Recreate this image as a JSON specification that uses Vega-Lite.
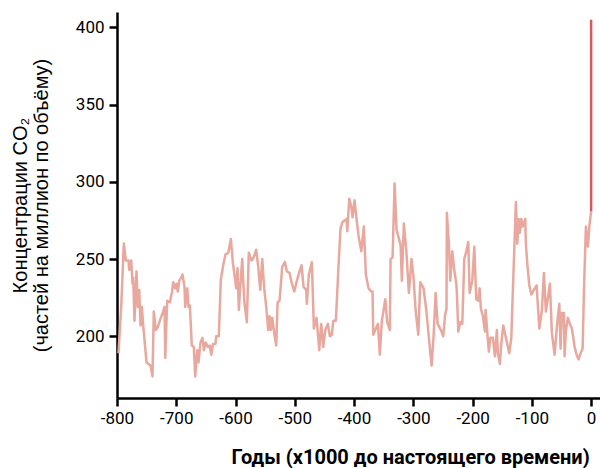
{
  "$schema": "https://vega.github.io/schema/vega-lite/v6.json",
  "width": 483,
  "height": 386,
  "autosize": "none",
  "padding": {"left": 117, "top": 12, "right": 0, "bottom": 70},
  "background": "white",
  "config": {
    "view": {"stroke": null},
    "font": "Roboto",
    "axis": {
      "grid": false,
      "domainColor": "black",
      "domainWidth": 2.5,
      "tickColor": "black",
      "tickWidth": 2.5,
      "tickSize": 8,
      "labelColor": "black",
      "labelFont": "Roboto",
      "labelFontSize": 17,
      "labelFlush": false,
      "labelOverlap": false,
      "labelExpr": "'' + datum.value",
      "titleColor": "black"
    }
  },
  "data": {
    "values": [
      {"t": -797.5, "co2": 189, "s": "ice"},
      {"t": -792.9, "co2": 219, "s": "ice"},
      {"t": -788.5, "co2": 260, "s": "ice"},
      {"t": -785.1, "co2": 249, "s": "ice"},
      {"t": -780.6, "co2": 249, "s": "ice"},
      {"t": -779.4, "co2": 243, "s": "ice"},
      {"t": -776.0, "co2": 249, "s": "ice"},
      {"t": -773.8, "co2": 234, "s": "ice"},
      {"t": -772.7, "co2": 238, "s": "ice"},
      {"t": -770.5, "co2": 210, "s": "ice"},
      {"t": -767.1, "co2": 242, "s": "ice"},
      {"t": -764.9, "co2": 219, "s": "ice"},
      {"t": -762.5, "co2": 230, "s": "ice"},
      {"t": -760.3, "co2": 207, "s": "ice"},
      {"t": -758.1, "co2": 219, "s": "ice"},
      {"t": -755.8, "co2": 207, "s": "ice"},
      {"t": -750.2, "co2": 183, "s": "ice"},
      {"t": -746.8, "co2": 182, "s": "ice"},
      {"t": -743.5, "co2": 181, "s": "ice"},
      {"t": -740.1, "co2": 174, "s": "ice"},
      {"t": -737.9, "co2": 216, "s": "ice"},
      {"t": -734.5, "co2": 204, "s": "ice"},
      {"t": -731.1, "co2": 206, "s": "ice"},
      {"t": -727.8, "co2": 210, "s": "ice"},
      {"t": -723.2, "co2": 215, "s": "ice"},
      {"t": -719.8, "co2": 219, "s": "ice"},
      {"t": -718.6, "co2": 186, "s": "ice"},
      {"t": -715.3, "co2": 223, "s": "ice"},
      {"t": -710.9, "co2": 222, "s": "ice"},
      {"t": -707.5, "co2": 228, "s": "ice"},
      {"t": -705.1, "co2": 235, "s": "ice"},
      {"t": -701.8, "co2": 231, "s": "ice"},
      {"t": -699.6, "co2": 234, "s": "ice"},
      {"t": -697.4, "co2": 229, "s": "ice"},
      {"t": -695.0, "co2": 236, "s": "ice"},
      {"t": -691.6, "co2": 238, "s": "ice"},
      {"t": -689.5, "co2": 240, "s": "ice"},
      {"t": -686.1, "co2": 232, "s": "ice"},
      {"t": -684.9, "co2": 219, "s": "ice"},
      {"t": -681.5, "co2": 231, "s": "ice"},
      {"t": -679.3, "co2": 219, "s": "ice"},
      {"t": -677.1, "co2": 220, "s": "ice"},
      {"t": -673.8, "co2": 194, "s": "ice"},
      {"t": -670.4, "co2": 193, "s": "ice"},
      {"t": -668.0, "co2": 174, "s": "ice"},
      {"t": -664.6, "co2": 191, "s": "ice"},
      {"t": -662.4, "co2": 183, "s": "ice"},
      {"t": -659.1, "co2": 196, "s": "ice"},
      {"t": -655.7, "co2": 199, "s": "ice"},
      {"t": -653.5, "co2": 191, "s": "ice"},
      {"t": -650.1, "co2": 196, "s": "ice"},
      {"t": -646.8, "co2": 193, "s": "ice"},
      {"t": -643.4, "co2": 194, "s": "ice"},
      {"t": -641.0, "co2": 188, "s": "ice"},
      {"t": -638.0, "co2": 195, "s": "ice"},
      {"t": -633.8, "co2": 195, "s": "ice"},
      {"t": -632.6, "co2": 200, "s": "ice"},
      {"t": -628.2, "co2": 200, "s": "ice"},
      {"t": -624.8, "co2": 237, "s": "ice"},
      {"t": -620.3, "co2": 247, "s": "ice"},
      {"t": -616.9, "co2": 253, "s": "ice"},
      {"t": -612.3, "co2": 254, "s": "ice"},
      {"t": -607.9, "co2": 263, "s": "ice"},
      {"t": -604.6, "co2": 248, "s": "ice"},
      {"t": -598.8, "co2": 231, "s": "ice"},
      {"t": -596.6, "co2": 244, "s": "ice"},
      {"t": -594.4, "co2": 217, "s": "ice"},
      {"t": -592.1, "co2": 232, "s": "ice"},
      {"t": -588.7, "co2": 250, "s": "ice"},
      {"t": -585.3, "co2": 223, "s": "ice"},
      {"t": -580.9, "co2": 209, "s": "ice"},
      {"t": -577.6, "co2": 254, "s": "ice"},
      {"t": -573.0, "co2": 249, "s": "ice"},
      {"t": -569.6, "co2": 251, "s": "ice"},
      {"t": -565.1, "co2": 256, "s": "ice"},
      {"t": -561.7, "co2": 245, "s": "ice"},
      {"t": -558.3, "co2": 230, "s": "ice"},
      {"t": -554.9, "co2": 250, "s": "ice"},
      {"t": -551.6, "co2": 231, "s": "ice"},
      {"t": -548.2, "co2": 219, "s": "ice"},
      {"t": -544.8, "co2": 204, "s": "ice"},
      {"t": -542.6, "co2": 213, "s": "ice"},
      {"t": -540.4, "co2": 204, "s": "ice"},
      {"t": -538.1, "co2": 212, "s": "ice"},
      {"t": -534.7, "co2": 202, "s": "ice"},
      {"t": -531.3, "co2": 194, "s": "ice"},
      {"t": -529.1, "co2": 222, "s": "ice"},
      {"t": -525.7, "co2": 223, "s": "ice"},
      {"t": -521.2, "co2": 245, "s": "ice"},
      {"t": -516.8, "co2": 248, "s": "ice"},
      {"t": -513.4, "co2": 242, "s": "ice"},
      {"t": -508.9, "co2": 241, "s": "ice"},
      {"t": -505.5, "co2": 235, "s": "ice"},
      {"t": -500.9, "co2": 229, "s": "ice"},
      {"t": -496.5, "co2": 236, "s": "ice"},
      {"t": -492.0, "co2": 242, "s": "ice"},
      {"t": -488.6, "co2": 246, "s": "ice"},
      {"t": -485.2, "co2": 232, "s": "ice"},
      {"t": -480.7, "co2": 230, "s": "ice"},
      {"t": -479.7, "co2": 221, "s": "ice"},
      {"t": -476.3, "co2": 240, "s": "ice"},
      {"t": -471.2, "co2": 248, "s": "ice"},
      {"t": -467.8, "co2": 205, "s": "ice"},
      {"t": -463.3, "co2": 212, "s": "ice"},
      {"t": -458.7, "co2": 191, "s": "ice"},
      {"t": -455.4, "co2": 208, "s": "ice"},
      {"t": -452.0, "co2": 193, "s": "ice"},
      {"t": -448.6, "co2": 204, "s": "ice"},
      {"t": -444.2, "co2": 208, "s": "ice"},
      {"t": -440.8, "co2": 200, "s": "ice"},
      {"t": -437.5, "co2": 201, "s": "ice"},
      {"t": -435.1, "co2": 210, "s": "ice"},
      {"t": -430.7, "co2": 210, "s": "ice"},
      {"t": -426.2, "co2": 246, "s": "ice"},
      {"t": -422.8, "co2": 270, "s": "ice"},
      {"t": -419.4, "co2": 274, "s": "ice"},
      {"t": -416.0, "co2": 275, "s": "ice"},
      {"t": -412.7, "co2": 276, "s": "ice"},
      {"t": -411.5, "co2": 268, "s": "ice"},
      {"t": -408.1, "co2": 289, "s": "ice"},
      {"t": -404.7, "co2": 284, "s": "ice"},
      {"t": -402.5, "co2": 277, "s": "ice"},
      {"t": -399.2, "co2": 288, "s": "ice"},
      {"t": -395.8, "co2": 276, "s": "ice"},
      {"t": -392.4, "co2": 265, "s": "ice"},
      {"t": -387.8, "co2": 255, "s": "ice"},
      {"t": -383.5, "co2": 271, "s": "ice"},
      {"t": -380.1, "co2": 240, "s": "ice"},
      {"t": -375.5, "co2": 231, "s": "ice"},
      {"t": -371.0, "co2": 229, "s": "ice"},
      {"t": -368.8, "co2": 229, "s": "ice"},
      {"t": -367.6, "co2": 201, "s": "ice"},
      {"t": -363.2, "co2": 205, "s": "ice"},
      {"t": -359.8, "co2": 208, "s": "ice"},
      {"t": -356.5, "co2": 188, "s": "ice"},
      {"t": -353.1, "co2": 210, "s": "ice"},
      {"t": -349.7, "co2": 218, "s": "ice"},
      {"t": -347.3, "co2": 224, "s": "ice"},
      {"t": -344.0, "co2": 209, "s": "ice"},
      {"t": -339.6, "co2": 204, "s": "ice"},
      {"t": -338.4, "co2": 250, "s": "ice"},
      {"t": -335.0, "co2": 251, "s": "ice"},
      {"t": -331.6, "co2": 299, "s": "ice"},
      {"t": -328.3, "co2": 269, "s": "ice"},
      {"t": -324.9, "co2": 264, "s": "ice"},
      {"t": -321.5, "co2": 259, "s": "ice"},
      {"t": -319.3, "co2": 236, "s": "ice"},
      {"t": -316.0, "co2": 273, "s": "ice"},
      {"t": -311.9, "co2": 256, "s": "ice"},
      {"t": -307.5, "co2": 228, "s": "ice"},
      {"t": -303.0, "co2": 250, "s": "ice"},
      {"t": -299.6, "co2": 238, "s": "ice"},
      {"t": -296.2, "co2": 217, "s": "ice"},
      {"t": -291.6, "co2": 201, "s": "ice"},
      {"t": -288.3, "co2": 235, "s": "ice"},
      {"t": -282.7, "co2": 231, "s": "ice"},
      {"t": -278.1, "co2": 217, "s": "ice"},
      {"t": -273.7, "co2": 199, "s": "ice"},
      {"t": -269.2, "co2": 181, "s": "ice"},
      {"t": -265.8, "co2": 200, "s": "ice"},
      {"t": -262.4, "co2": 228, "s": "ice"},
      {"t": -259.0, "co2": 208, "s": "ice"},
      {"t": -253.5, "co2": 204, "s": "ice"},
      {"t": -249.5, "co2": 200, "s": "ice"},
      {"t": -246.3, "co2": 214, "s": "ice"},
      {"t": -244.0, "co2": 218, "s": "ice"},
      {"t": -243.4, "co2": 280, "s": "ice"},
      {"t": -240.0, "co2": 260, "s": "ice"},
      {"t": -237.6, "co2": 236, "s": "ice"},
      {"t": -234.3, "co2": 255, "s": "ice"},
      {"t": -230.9, "co2": 243, "s": "ice"},
      {"t": -227.5, "co2": 234, "s": "ice"},
      {"t": -226.5, "co2": 228, "s": "ice"},
      {"t": -224.1, "co2": 203, "s": "ice"},
      {"t": -220.8, "co2": 209, "s": "ice"},
      {"t": -217.4, "co2": 208, "s": "ice"},
      {"t": -214.0, "co2": 250, "s": "ice"},
      {"t": -210.6, "co2": 255, "s": "ice"},
      {"t": -207.3, "co2": 261, "s": "ice"},
      {"t": -205.0, "co2": 228, "s": "ice"},
      {"t": -200.5, "co2": 236, "s": "ice"},
      {"t": -197.1, "co2": 258, "s": "ice"},
      {"t": -193.8, "co2": 224, "s": "ice"},
      {"t": -190.4, "co2": 223, "s": "ice"},
      {"t": -188.2, "co2": 231, "s": "ice"},
      {"t": -186.0, "co2": 218, "s": "ice"},
      {"t": -182.6, "co2": 213, "s": "ice"},
      {"t": -179.2, "co2": 203, "s": "ice"},
      {"t": -178.0, "co2": 217, "s": "ice"},
      {"t": -174.7, "co2": 200, "s": "ice"},
      {"t": -172.5, "co2": 190, "s": "ice"},
      {"t": -170.1, "co2": 199, "s": "ice"},
      {"t": -165.7, "co2": 199, "s": "ice"},
      {"t": -162.4, "co2": 187, "s": "ice"},
      {"t": -159.0, "co2": 204, "s": "ice"},
      {"t": -157.3, "co2": 189, "s": "ice"},
      {"t": -153.9, "co2": 182, "s": "ice"},
      {"t": -151.6, "co2": 195, "s": "ice"},
      {"t": -148.2, "co2": 207, "s": "ice"},
      {"t": -143.8, "co2": 199, "s": "ice"},
      {"t": -138.1, "co2": 189, "s": "ice"},
      {"t": -134.7, "co2": 199, "s": "ice"},
      {"t": -131.3, "co2": 238, "s": "ice"},
      {"t": -126.9, "co2": 287, "s": "ice"},
      {"t": -124.6, "co2": 260, "s": "ice"},
      {"t": -122.4, "co2": 276, "s": "ice"},
      {"t": -120.2, "co2": 267, "s": "ice"},
      {"t": -117.8, "co2": 276, "s": "ice"},
      {"t": -115.6, "co2": 271, "s": "ice"},
      {"t": -111.1, "co2": 276, "s": "ice"},
      {"t": -110.1, "co2": 260, "s": "ice"},
      {"t": -107.7, "co2": 247, "s": "ice"},
      {"t": -104.3, "co2": 233, "s": "ice"},
      {"t": -100.9, "co2": 227, "s": "ice"},
      {"t": -96.5, "co2": 230, "s": "ice"},
      {"t": -92.0, "co2": 233, "s": "ice"},
      {"t": -87.4, "co2": 205, "s": "ice"},
      {"t": -83.0, "co2": 217, "s": "ice"},
      {"t": -79.7, "co2": 241, "s": "ice"},
      {"t": -76.3, "co2": 216, "s": "ice"},
      {"t": -72.9, "co2": 225, "s": "ice"},
      {"t": -69.5, "co2": 234, "s": "ice"},
      {"t": -66.2, "co2": 202, "s": "ice"},
      {"t": -61.6, "co2": 188, "s": "ice"},
      {"t": -57.1, "co2": 209, "s": "ice"},
      {"t": -53.7, "co2": 221, "s": "ice"},
      {"t": -51.5, "co2": 192, "s": "ice"},
      {"t": -49.3, "co2": 215, "s": "ice"},
      {"t": -45.9, "co2": 215, "s": "ice"},
      {"t": -44.7, "co2": 187, "s": "ice"},
      {"t": -42.5, "co2": 204, "s": "ice"},
      {"t": -39.2, "co2": 212, "s": "ice"},
      {"t": -35.8, "co2": 208, "s": "ice"},
      {"t": -32.4, "co2": 205, "s": "ice"},
      {"t": -27.8, "co2": 193, "s": "ice"},
      {"t": -24.5, "co2": 188, "s": "ice"},
      {"t": -21.1, "co2": 185, "s": "ice"},
      {"t": -17.7, "co2": 189, "s": "ice"},
      {"t": -14.3, "co2": 192, "s": "ice"},
      {"t": -12.2, "co2": 228, "s": "ice"},
      {"t": -8.8, "co2": 271, "s": "ice"},
      {"t": -5.4, "co2": 258, "s": "ice"},
      {"t": -3.0, "co2": 271, "s": "ice"},
      {"t": 0.0, "co2": 281, "s": "ice"},
      {"t": 0.0, "co2": 281, "s": "modern"},
      {"t": 0.0, "co2": 405, "s": "modern"}
    ]
  },
  "mark": {"type": "line", "strokeWidth": 2.5, "strokeJoin": "round", "clip": true},
  "encoding": {
    "x": {
      "field": "t",
      "type": "quantitative",
      "scale": {"domain": [-800, 15], "nice": false, "zero": false},
      "axis": {
        "values": [-800, -700, -600, -500, -400, -300, -200, -100, 0],
        "labelPadding": 4,
        "title": "Годы (x1000 до настоящего времени)",
        "titleFont": "Roboto",
        "titleFontSize": 20,
        "titleFontWeight": "bold",
        "titleAlign": "left",
        "titleAnchor": "start",
        "titleBaseline": "alphabetic",
        "titleX": 114,
        "titleY": 65
      }
    },
    "y": {
      "field": "co2",
      "type": "quantitative",
      "scale": {"domain": [160, 410], "nice": false, "zero": false},
      "axis": {
        "values": [200, 250, 300, 350, 400],
        "labelPadding": 5,
        "title": ["Концентрации CO₂", "(частей на миллион по объёму)"],
        "titleFont": "Liberation Sans",
        "titleFontSize": 20,
        "titleFontWeight": "normal",
        "titleLineHeight": 21,
        "titlePadding": 24
      }
    },
    "color": {
      "field": "s",
      "type": "nominal",
      "scale": {"domain": ["ice", "modern"], "range": ["#e8a89e", "#d65a5a"]},
      "legend": null
    }
  }
}
